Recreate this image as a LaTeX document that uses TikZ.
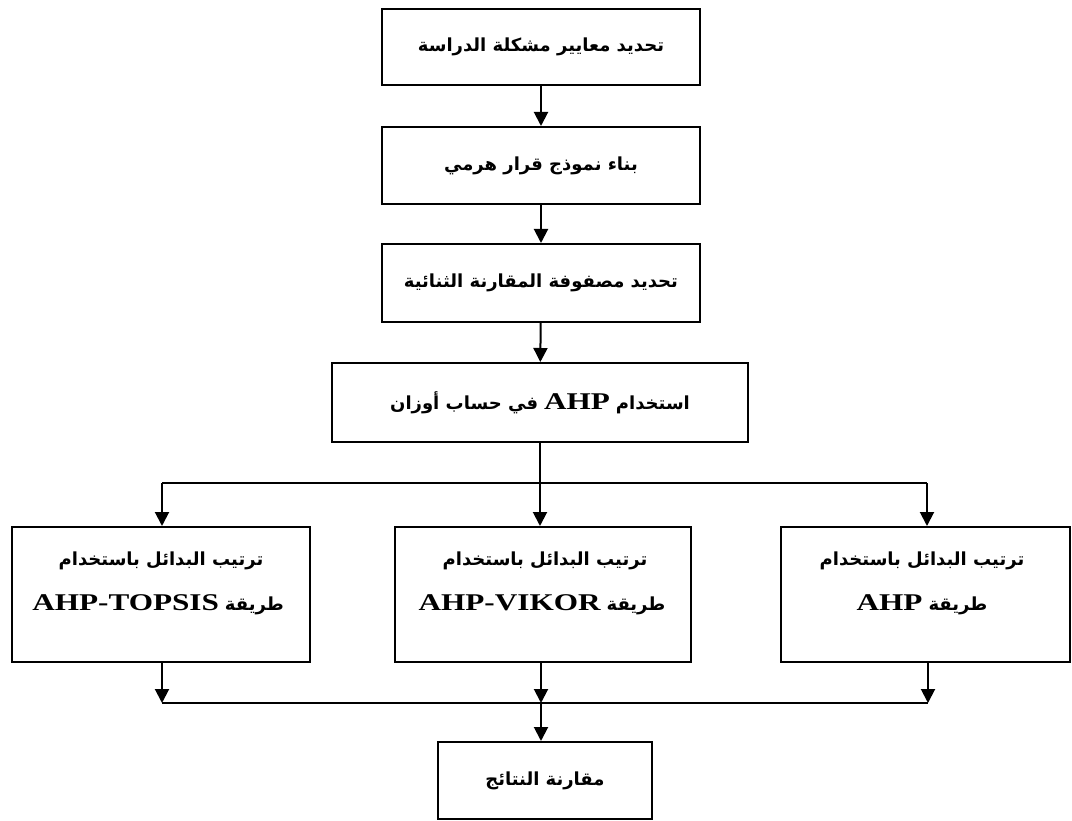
\documentclass[tikz,border=0pt]{standalone}
\usepackage{fontspec}
\usepackage{graphicx}
\usetikzlibrary{arrows.meta}
\TeXXeTstate=1
\newfontfamily\arabicfont[Script=Arabic]{DejaVu Sans}
\newfontfamily\latinfont{Liberation Serif}
\newcommand\artxt[1]{{\arabicfont\bfseries\fontsize{18}{22}\selectfont\beginR #1\endR}}
\newcommand\lat[1]{\scalebox{1.3}[1]{\latinfont\bfseries\fontsize{24}{28}\selectfont #1}}
\newcommand\gap{\hspace{6pt}}
\tikzset{
  box/.style={draw, line width=2pt, rectangle, inner sep=0pt},
  txt/.style={inner sep=0pt, anchor=center},
  arr/.style={line width=2pt, -{Triangle[length=14pt,width=14pt]}},
  thinl/.style={line width=1.3pt}
}
\begin{document}
\begin{tikzpicture}[x=1pt,y=-1pt]
\useasboundingbox[fill=white] (0,0) rectangle (1072,821);
% boxes
\node[box, minimum width=318pt, minimum height=76pt] (B1) at (541,47) {\artxt{تحديد معايير مشكلة الدراسة}};
\node[box, minimum width=318pt, minimum height=77pt] (B2) at (541,165.5) {\artxt{بناء نموذج قرار هرمي}};
\node[box, minimum width=318pt, minimum height=78pt] (B3) at (541,283) {\artxt{تحديد مصفوفة المقارنة الثنائية}};
\node[box, minimum width=416pt, minimum height=79pt] (B4) at (540,402.5) {\artxt{في حساب أوزان}\gap\lat{AHP}\gap\artxt{استخدام}};
\node[box, minimum width=298pt, minimum height=135pt] (L) at (161,594.5) {};
\node[box, minimum width=296pt, minimum height=135pt] (M) at (543,594.5) {};
\node[box, minimum width=289pt, minimum height=135pt] (R) at (925.5,594.5) {};
\node[box, minimum width=214pt, minimum height=77pt] (F) at (545,780.5) {\artxt{مقارنة النتائج}};
% texts in lower boxes
\node[txt] (L1) at (161,561) {\artxt{ترتيب البدائل باستخدام}};
\node[txt] (L2) at (158,605) {\lat{AHP-TOPSIS}\gap\artxt{طريقة}};
\node[txt] (M1) at (545,561) {\artxt{ترتيب البدائل باستخدام}};
\node[txt] (M2) at (542,605) {\lat{AHP-VIKOR}\gap\artxt{طريقة}};
\node[txt] (R1) at (922,561) {\artxt{ترتيب البدائل باستخدام}};
\node[txt] (R2) at (922,605) {\lat{AHP}\gap\artxt{طريقة}};
% coordinates
\coordinate (sp) at (540,483);
\coordinate (spL) at (162,483);
\coordinate (spR) at (927,483);
\coordinate (mL) at (162,703);
\coordinate (mM) at (541,703);
\coordinate (mR) at (928,703);
% connectors
\draw[arr] (B1) -- (B2);
\draw[arr] (B2) -- (B3);
\draw[arr] (B3) -- (B4);
\draw[thinl] (B4.south -| sp) -- (sp);
\draw[thinl] (spL) -- (spR);
\draw[arr] (spL) -- (spL |- L.north);
\draw[arr] (sp) -- (sp |- M.north);
\draw[arr] (spR) -- (spR |- R.north);
\draw[arr] (L.south -| mL) -- (mL);
\draw[arr] (M.south -| mM) -- (mM);
\draw[arr] (R.south -| mR) -- (mR);
\draw[thinl] (mL) -- (mR);
\draw[arr] (mM) -- (mM |- F.north);
\end{tikzpicture}
\end{document}
